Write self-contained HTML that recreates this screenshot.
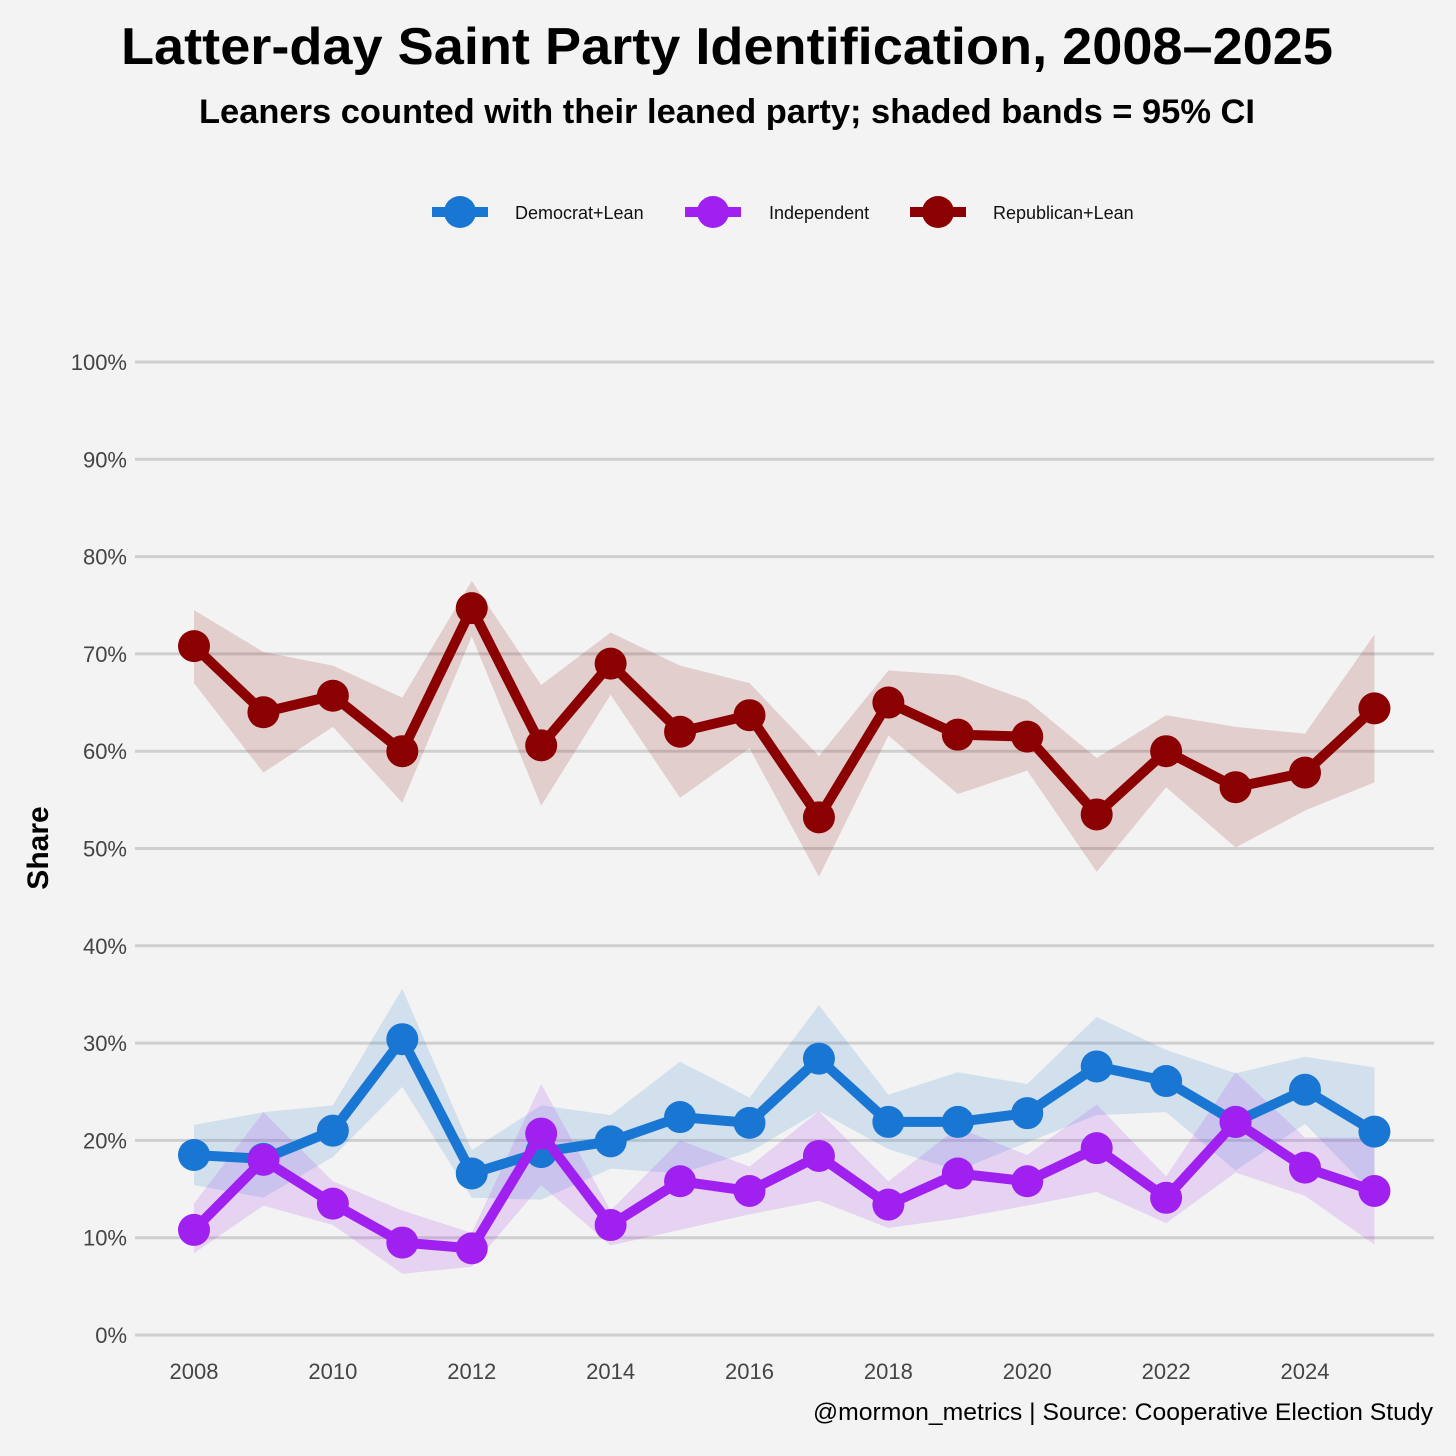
<!DOCTYPE html>
<html><head><meta charset="utf-8"><style>
html,body{margin:0;padding:0;background:#f3f3f3;}
svg{display:block;font-family:"Liberation Sans Narrow","Liberation Sans",sans-serif;}
</style></head><body>
<svg id="chart" width="1456" height="1456" viewBox="0 0 1456 1456" xmlns="http://www.w3.org/2000/svg">
<rect width="1456" height="1456" fill="#f3f3f3"/>
<text x="727" y="64" text-anchor="middle" font-size="52" font-weight="bold" textLength="1212" lengthAdjust="spacingAndGlyphs">Latter-day Saint Party Identification, 2008–2025</text>
<text x="727" y="123" text-anchor="middle" font-size="34" font-weight="bold" textLength="1056" lengthAdjust="spacingAndGlyphs">Leaners counted with their leaned party; shaded bands = 95% CI</text>
<g id="legend"></g>
<g id="grid"></g>
<g id="bands"></g>
<g id="series"></g>
<text transform="translate(48,848) rotate(-90)" text-anchor="middle" font-size="30" font-weight="bold">Share</text>
<text x="1433" y="1420" text-anchor="end" font-size="24" textLength="620" lengthAdjust="spacingAndGlyphs">@mormon_metrics | Source: Cooperative Election Study</text>
</svg>
<script>
const years=[2008,2009,2010,2011,2012,2013,2014,2015,2016,2017,2018,2019,2020,2021,2022,2023,2024,2025];
const repVals=[70.8,64,65.7,60,74.7,60.6,69,62,63.7,53.2,65,61.7,61.5,53.5,60,56.3,57.8,64.4];
const repHi=[74.5,70.2,68.8,65.5,77.5,66.8,72.2,68.8,67,59.5,68.3,67.8,65.2,59.3,63.7,62.5,61.8,72];
const repLo=[67,57.8,62.5,54.7,71.8,54.4,65.8,55.2,60.3,47.1,61.6,55.6,58,47.6,56.3,50.1,53.9,56.8];
const demVals=[18.5,18.1,21,30.4,16.6,18.8,19.9,22.4,21.8,28.4,21.9,21.9,22.8,27.6,26.1,21.9,25.2,20.9];
const demHi=[21.6,22.9,23.6,35.6,19,23.6,22.6,28.1,24.4,33.9,24.7,27,25.8,32.7,29.3,26.9,28.6,27.5];
const demLo=[15.4,14.1,18.3,25.5,14.1,13.9,17.1,16.6,18.8,23,19.1,16.9,19.8,22.6,22.9,16.9,21.7,14.4];
const indVals=[10.8,18,13.5,9.5,8.9,20.7,11.3,15.8,14.8,18.4,13.4,16.6,15.8,19.2,14.1,21.9,17.2,14.8];
const indHi=[13.5,22.9,15.8,12.8,10.5,25.8,12.8,20,17.3,23,15.8,21.3,18.5,23.7,16.3,27,20.3,20.3];
const indLo=[8.4,13.3,11.3,6.3,7,15.4,9.2,10.8,12.4,13.8,11,12,13.3,14.7,11.5,16.7,14.3,9.3];
const yTicks=[0,10,20,30,40,50,60,70,80,90,100];
const yTickLabels=["0%","10%","20%","30%","40%","50%","60%","70%","80%","90%","100%"];
const xTicks=[2008,2010,2012,2014,2016,2018,2020,2022,2024];

const NS="http://www.w3.org/2000/svg";
function x(v){return 194+(v-2008)*(1305-194)/16;}
function y(v){return 1335-v*(1335-362)/100;}
function mk(tag,attrs,parent){const e=document.createElementNS(NS,tag);for(const k in attrs)e.setAttribute(k,attrs[k]);parent.appendChild(e);return e;}
const grid=document.getElementById('grid'),bands=document.getElementById('bands'),series=document.getElementById('series'),legend=document.getElementById('legend');
yTicks.forEach((t,i)=>{
  const l=mk('line',{x1:135,x2:1434,y1:y(t),y2:y(t),stroke:'#cfcfcf','stroke-width':3},grid);
  
  
  const tx=mk('text',{x:127,y:y(t)+8,'text-anchor':'end','font-size':22,fill:'#444'},grid);
  tx.textContent=yTickLabels[i];
  
  
});
xTicks.forEach(t=>{
  const tx=mk('text',{x:x(t),y:1379,'text-anchor':'middle','font-size':22,fill:'#444'},grid);
  tx.textContent=String(t);
  
  
});
const defs=[
  {name:'democrat',vals:demVals,hi:demHi,lo:demLo,color:'#1976d2',band:'rgba(25,118,210,0.15)'},
  {name:'independent',vals:indVals,hi:indHi,lo:indLo,color:'#a020f0',band:'rgba(160,32,240,0.15)'},
  {name:'republican',vals:repVals,hi:repHi,lo:repLo,color:'#8b0000',band:'rgba(139,0,0,0.15)'}
];
defs.forEach(s=>{
  let d='M'+years.map((yr,i)=>x(yr)+','+y(s.hi[i])).join('L');
  d+='L'+years.map((yr,i)=>[x(yr),y(s.lo[i])]).reverse().map(p=>p.join(',')).join('L')+'Z';
  const b=mk('path',{d:d,fill:s.band},bands);
  
  
});
defs.forEach(s=>{
  const ln=mk('polyline',{points:years.map((yr,i)=>x(yr)+','+y(s.vals[i])).join(' '),fill:'none',stroke:s.color,'stroke-width':10,'stroke-linejoin':'round'},series);
  
  
  years.forEach((yr,i)=>{
    const c=mk('circle',{cx:x(yr),cy:y(s.vals[i]),r:16,fill:s.color},series);
    
    
  });
});
const leg=[{label:'Democrat+Lean',color:'#1976d2',x0:432,tx:515},{label:'Independent',color:'#a020f0',x0:685,tx:769},{label:'Republican+Lean',color:'#8b0000',x0:910,tx:993}];
leg.forEach(e=>{
  const g=mk('g',{},legend);
  
  
  mk('line',{x1:e.x0,x2:e.x0+56,y1:212,y2:212,stroke:e.color,'stroke-width':10},g);
  mk('circle',{cx:e.x0+28,cy:212,r:16,fill:e.color},g);
  const t=mk('text',{x:e.tx,y:219,'font-size':18,fill:'#111'},g);
  t.textContent=e.label;
});
</script>
</body></html>
